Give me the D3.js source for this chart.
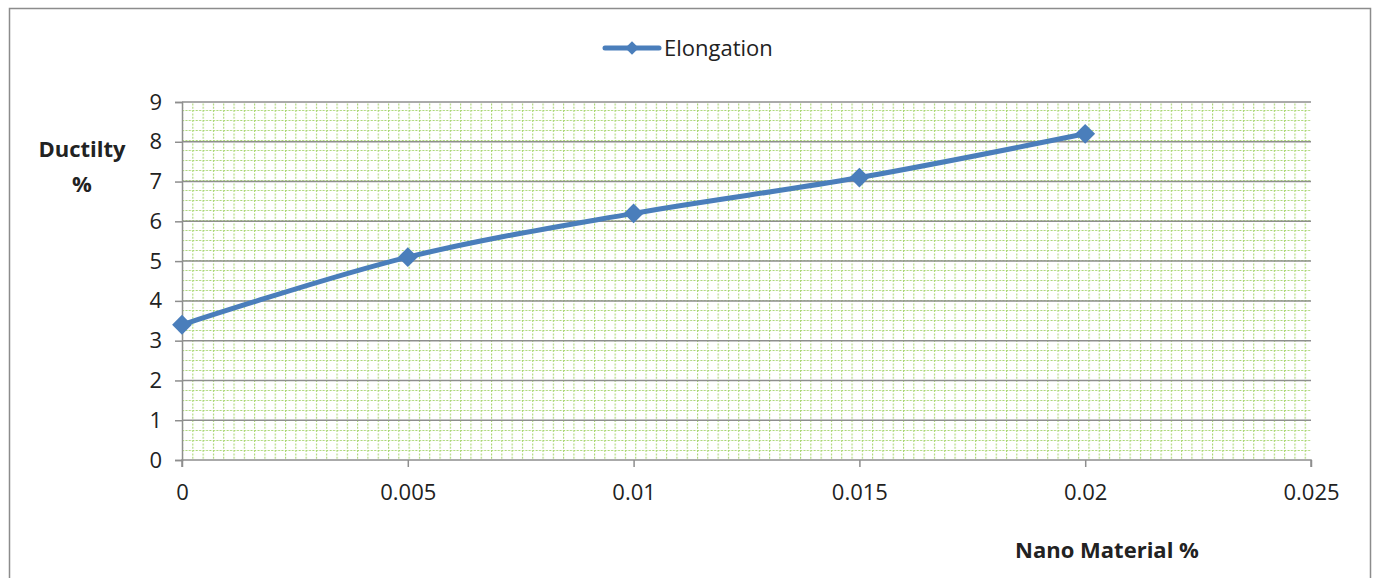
<!DOCTYPE html>
<html lang="en">
<head>
<meta charset="UTF-8">
<title>Elongation</title>
<script src="https://d3js.org/d3.v7.min.js"></script>
<style>
  body { margin: 0; background: #fff; }
  text { font-family: "Open Sans", "Liberation Sans", sans-serif; fill: #222; }
</style>
</head>
<body>
<div id="chart"></div>
<script>
// data
const nano = [0, 0.005, 0.01, 0.015, 0.02];
const elongation = [3.4, 5.1, 6.2, 7.1, 8.2];
const xTicks = [0, 0.005, 0.01, 0.015, 0.02, 0.025];
const yTicks = [0, 1, 2, 3, 4, 5, 6, 7, 8, 9];

const W = 1374, H = 578;
const plot = { left: 182, right: 1311, top: 102, bottom: 460 };

const svg = d3.select("#chart").append("svg")
  .attr("width", W).attr("height", H);

// outer chart border
svg.append("rect")
  .attr("x", 9.5).attr("y", 8.5)
  .attr("width", 1361).attr("height", 590)
  .attr("fill", "#fff").attr("stroke", "#8c8c8c").attr("stroke-width", 1.5);

const x = d3.scaleLinear().domain([0, 0.025]).range([plot.left, plot.right]);
const y = d3.scaleLinear().domain([0, 9]).range([plot.bottom, plot.top]);

// small grid pattern fill of the plot area
const defs = svg.append("defs");
const pat = defs.append("pattern")
  .attr("id", "grid").attr("patternUnits", "userSpaceOnUse")
  .attr("width", 10.3).attr("height", 10)
  .attr("x", plot.left).attr("y", plot.top - 2);
pat.append("line").attr("x1", 0).attr("x2", 10.3).attr("y1", 0.5).attr("y2", 0.5)
  .attr("stroke", "#a9d672").attr("stroke-width", 1.2).attr("stroke-dasharray", "2,1.4");
pat.append("line").attr("y1", 0).attr("y2", 10).attr("x1", 0.5).attr("x2", 0.5)
  .attr("stroke", "#a9d672").attr("stroke-width", 1.2).attr("stroke-dasharray", "2,1.4");

svg.append("rect")
  .attr("x", plot.left).attr("y", plot.top)
  .attr("width", plot.right - plot.left).attr("height", plot.bottom - plot.top)
  .attr("fill", "url(#grid)");

// major horizontal gridlines
svg.append("g").selectAll("line").data(yTicks.filter(d => d > 0)).join("line")
  .attr("x1", plot.left).attr("x2", plot.right)
  .attr("y1", d => y(d)).attr("y2", d => y(d))
  .attr("stroke", "#8e8e8e").attr("stroke-width", 1.5);

// y axis
const yAxis = svg.append("g")
  .attr("transform", `translate(${plot.left},0)`)
  .call(d3.axisLeft(y).tickValues(yTicks).tickSize(7).tickPadding(13).tickFormat(d3.format("d")));
yAxis.selectAll("path, line").attr("stroke", "#8e8e8e").attr("stroke-width", 1.5);
yAxis.selectAll("text").style("font-size", "22px").attr("fill", "#222");

// x axis
const xAxis = svg.append("g")
  .attr("transform", `translate(0,${plot.bottom})`)
  .call(d3.axisBottom(x).tickValues(xTicks).tickSize(7).tickPadding(17).tickFormat(d => String(+d.toFixed(3))));
xAxis.selectAll("path").attr("d", `M${plot.left},7V0H${plot.right}V7`);
xAxis.selectAll("path, line").attr("stroke", "#8e8e8e").attr("stroke-width", 1.5);
xAxis.selectAll("text").style("font-size", "22px").attr("fill", "#222");

// series line (smoothed)
const pts = nano.map((d, i) => [d, elongation[i]]);
const blue = "#4a7ebb";
svg.append("path")
  .datum(pts)
  .attr("fill", "none").attr("stroke", blue).attr("stroke-width", 5)
  .attr("stroke-linejoin", "round").attr("stroke-linecap", "round")
  .attr("d", d3.line().x(d => x(d[0])).y(d => y(d[1])).curve(d3.curveCatmullRom.alpha(0.5)));

const diamond = d3.symbol().type(d3.symbolDiamond2).size(250);
svg.append("g").selectAll("path").data(pts).join("path")
  .attr("transform", d => `translate(${x(d[0])},${y(d[1])})`)
  .attr("d", diamond).attr("fill", blue);

// axis titles
svg.append("text").attr("x", 82).attr("y", 157).attr("text-anchor", "middle")
  .style("font-size", "22px").style("font-weight", "bold").attr("fill", "#111").text("Ductilty");
svg.append("text").attr("x", 82).attr("y", 192).attr("text-anchor", "middle")
  .style("font-size", "22px").style("font-weight", "bold").attr("fill", "#111").text("%");
svg.append("text").attr("x", 1107).attr("y", 558).attr("text-anchor", "middle")
  .style("font-size", "22px").style("font-weight", "bold").attr("fill", "#111").text("Nano Material %");

// legend
const lg = svg.append("g");
lg.append("line").attr("x1", 605).attr("x2", 659).attr("y1", 48).attr("y2", 48)
  .attr("stroke", blue).attr("stroke-width", 5).attr("stroke-linecap", "round");
lg.append("path").attr("transform", "translate(632,48)")
  .attr("d", d3.symbol().type(d3.symbolDiamond2).size(115)).attr("fill", blue);
lg.append("text").attr("x", 664).attr("y", 56).style("font-size", "22px").attr("fill", "#222").text("Elongation");
</script>
</body>
</html>
